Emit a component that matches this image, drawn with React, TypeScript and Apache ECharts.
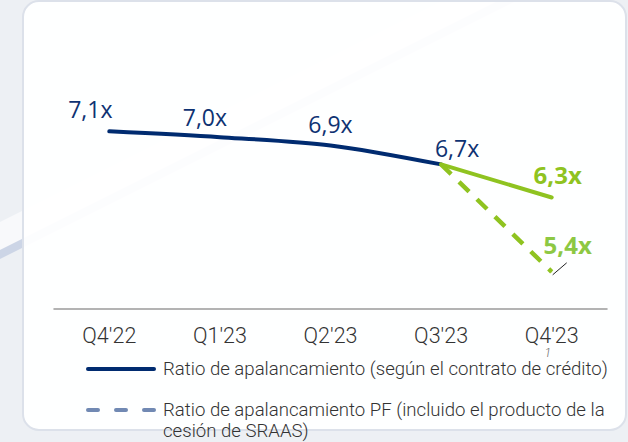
import React, { useEffect, useRef } from "react";
import * as echarts from "echarts";

const categories = ["Q4'22", "Q1'23", "Q2'23", "Q3'23", "Q4'23"];
const ratioValues: (number | null)[] = [7.1, 7.03, 6.93, 6.7, null];
const ratioForecast: (number | null)[] = [null, null, null, 6.7, 6.3];
const ratioPF: (number | null)[] = [null, null, null, 6.7, 5.4];
const footnoteMark = "1";
const legendLabels = [
  "Ratio de apalancamiento (según el contrato de crédito)",
  "Ratio de apalancamiento PF (incluido el producto de la\ncesión de SRAAS)",
];

const ratioLabelOffsets = [
  [-19, -22],
  [-15, -20],
  [0, -21],
  [16, -16],
  [0, 0],
];
const forecastLabelOffset = [6, -23];
const pfLabelOffset = [16, -27];

const NAVY = "#002b70";
const NAVY_TEXT = "#0e3272";
const GREEN = "#8fc320";
const GREEN_LIGHT = "#8dc843";
const FONT = "'Open Sans', 'Noto Sans', sans-serif";
const LIGHT_FONT = "Roboto, 'Open Sans', sans-serif";

const fmt = (v: number) => v.toFixed(1).replace(".", ",") + "x";

export default function App() {
  const ref = useRef<HTMLDivElement>(null);
  useEffect(() => {
    if (!ref.current) return;
    const chart = echarts.init(ref.current, undefined, { renderer: "svg" });
    const last = categories.length - 1;

    const option: any = {
      animation: false,
      backgroundColor: "#edf0f4",
      grid: { left: 54, right: 21, top: 57, bottom: 133 },
      xAxis: {
        type: "category",
        data: categories,
        boundaryGap: true,
        axisLine: { lineStyle: { color: "#9a9a9a", width: 1.5 } },
        axisTick: { show: false },
        axisLabel: {
          margin: 15,
          fontFamily: LIGHT_FONT,
          fontSize: 21.5,
          fontWeight: 300,
          lineHeight: 22,
          color: "#333333",
        },
      },
      yAxis: {
        type: "value",
        min: 4.95,
        max: 8.0,
        show: false,
        splitLine: { show: false },
      },
      series: [
        {
          type: "line",
          data: ratioValues.map((v, i) => ({
            value: v,
            label: { offset: ratioLabelOffsets[i] },
          })),
          smooth: 0.3,
          symbol: "circle",
          symbolSize: 1,
          itemStyle: { color: NAVY },
          lineStyle: { color: NAVY, width: 4, cap: "round" },
          z: 3,
          label: {
            show: true,
            position: "inside",
            formatter: (p: any) => fmt(p.value),
            fontFamily: FONT,
            fontSize: 23,
            color: NAVY_TEXT,
          },
        },
        {
          type: "line",
          data: ratioForecast.map((v, i) => ({
            value: v,
            label: i === last ? { show: true, offset: forecastLabelOffset } : { show: false },
          })),
          symbol: "circle",
          symbolSize: 1,
          itemStyle: { color: GREEN },
          lineStyle: { color: GREEN, width: 4, cap: "round" },
          z: 4,
          label: {
            position: "inside",
            formatter: (p: any) => fmt(p.value),
            fontFamily: FONT,
            fontSize: 24,
            fontWeight: "bold",
            color: GREEN,
          },
        },
        {
          type: "line",
          data: ratioPF.map((v, i) => ({
            value: v,
            label: i === last ? { show: true, offset: pfLabelOffset } : { show: false },
          })),
          symbol: "circle",
          symbolSize: 1,
          itemStyle: { color: GREEN },
          lineStyle: { color: GREEN, width: 4.5, type: [14, 11] },
          z: 4,
          label: {
            position: "inside",
            formatter: (p: any) => fmt(p.value),
            fontFamily: FONT,
            fontSize: 24,
            fontWeight: "bold",
            color: GREEN_LIGHT,
          },
        },
      ],
    };
    chart.setOption(option);

    const pf = chart.convertToPixel({ gridIndex: 0 }, [last, ratioPF[last] as number]) as number[];
    const lastX = chart.convertToPixel({ xAxisIndex: 0 }, categories[last]) as number;

    const graphic: any[] = [
      {
        type: "polygon",
        z: -30,
        silent: true,
        shape: { points: [[0, 222], [628, -92], [628, -64], [0, 250]] },
        style: { fill: "#f8f9fb" },
      },
      {
        type: "polygon",
        z: -30,
        silent: true,
        shape: { points: [[0, 250], [628, -64], [628, -55], [0, 259]] },
        style: { fill: "#ccd5e6" },
      },
      {
        type: "rect",
        z: -20,
        silent: true,
        shape: { x: 23, y: 1, width: 603, height: 429, r: 16 },
        style: { fill: "rgba(255,255,255,0.94)", stroke: "#dce1ea", lineWidth: 2 },
      },
      {
        type: "line",
        z: 10,
        silent: true,
        shape: { x1: pf[0] + 1, y1: pf[1] + 3, x2: pf[0] + 15, y2: pf[1] - 9 },
        style: { stroke: "#222222", lineWidth: 1 },
      },
      {
        type: "text",
        z: 10,
        silent: true,
        x: lastX - 4,
        y: 352.7,
        style: {
          text: footnoteMark,
          fontFamily: LIGHT_FONT,
          fontSize: 12,
          fontStyle: "italic",
          fontWeight: 300,
          fill: "#666666",
          align: "center",
          verticalAlign: "middle",
        },
      },
      {
        type: "line",
        z: 10,
        silent: true,
        shape: { x1: 88, y1: 369, x2: 154, y2: 369 },
        style: { stroke: NAVY, lineWidth: 4, lineCap: "round" },
      },
      {
        type: "text",
        z: 10,
        silent: true,
        x: 163,
        y: 369,
        style: {
          text: legendLabels[0],
          fontFamily: LIGHT_FONT,
          fontSize: 18.6,
          fontWeight: 300,
          fill: "#333333",
          verticalAlign: "middle",
        },
      },
      {
        type: "line",
        z: 10,
        silent: true,
        shape: { x1: 88, y1: 410, x2: 154, y2: 410 },
        style: { stroke: "#7189b3", lineWidth: 4, lineCap: "round", lineDash: [10, 18] },
      },
      {
        type: "text",
        z: 10,
        silent: true,
        x: 163,
        y: 399.5,
        style: {
          text: legendLabels[1],
          fontFamily: LIGHT_FONT,
          fontSize: 18.6,
          fontWeight: 300,
          lineHeight: 21,
          fill: "#333333",
          verticalAlign: "top",
        },
      },
    ];
    chart.setOption({ graphic });

    return () => chart.dispose();
  }, []);

  return (
    <div
      ref={ref}
      style={{ position: "fixed", left: 0, top: 0, width: 628, height: 442 }}
    />
  );
}
